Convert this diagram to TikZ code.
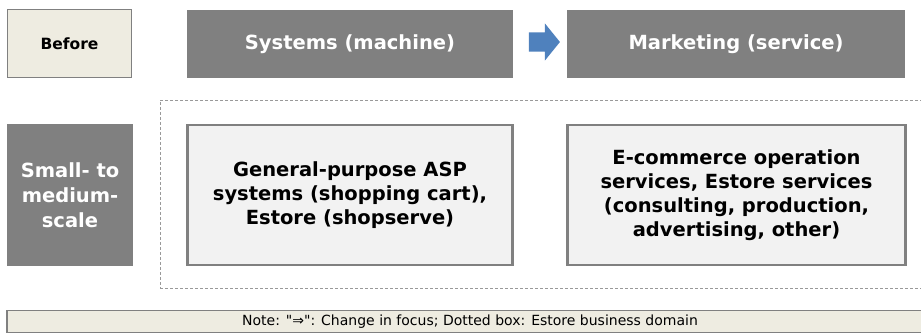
\documentclass[tikz,border=0pt]{standalone}
\usepackage{fontspec}
\setmainfont{DejaVu Sans}
\usetikzlibrary{shapes.arrows}

\definecolor{slate}{HTML}{808080}
\definecolor{paper}{HTML}{EEECE1}
\definecolor{pale}{HTML}{F2F2F2}
\definecolor{arrowblue}{HTML}{4F81BD}

\begin{document}
\begin{tikzpicture}[x=1pt, y=-1pt]
\tikzset{
	label/.style={draw=slate, line width=1.8pt, fill=paper, inner sep=0pt, minimum width=124pt, minimum height=68pt, font=\fontsize{15.5}{18}\selectfont\bfseries},
	headbox/.style={fill=slate, text=white, inner sep=0pt, minimum height=68pt, font=\fontsize{19.5}{22}\selectfont\bfseries},
	sidebox/.style={fill=slate, text=white, inner sep=0pt, align=center, minimum width=126pt, minimum height=142pt, font=\fontsize{19.5}{25}\selectfont\bfseries},
	content/.style={draw=slate, line width=2.2pt, fill=pale, align=center, inner sep=0pt, minimum height=140pt, font=\fontsize{19.5}{24}\selectfont\bfseries},
	note/.style={draw=slate, line width=1.8pt, fill=paper, inner sep=0pt, minimum width=926pt, minimum height=22pt, font=\fontsize{14}{16}\selectfont}
}
\useasboundingbox (0,0) rectangle (921,334);
\clip (0,0) rectangle (921,334);

% Business domain (dotted frame, runs off the right edge)
\node[draw=slate!80, densely dashed, line width=0.6pt, minimum width=780pt, minimum height=188pt] (domain) at (550,194) {};

% Header row
\node[label] (before) at (69.5,43.5) {Before};
\node[headbox, minimum width=326pt] (systems) at (350,44) {Systems (machine)};
\node[headbox, minimum width=338pt] (marketing) at (736,44) {Marketing (service)};
\node[single arrow, fill=arrowblue, inner xsep=0pt, inner ysep=9.5pt, minimum height=31pt, single arrow head extend=9pt, single arrow tip angle=102] (shift) at (540.5,42) {};

% Small- to medium-scale row
\node[sidebox] (scale) at (70,195) {Small- to\\medium-\\scale};
\node[content, minimum width=325pt] (asp) at (350,195)
{General-purpose ASP\\
systems (shopping cart),\\
Estore (shopserve)};
\node[content, minimum width=338pt] (ecom) at (736.5,195)
{E-commerce operation\\
services, Estore services\\
(consulting, production,\\
advertising, other)};

% Footnote bar
\node[note] (footnote) at (470,321.5) {Note: \textquotedbl⇒\textquotedbl: Change in focus; Dotted box: Estore business domain};

\end{tikzpicture}
\end{document}
